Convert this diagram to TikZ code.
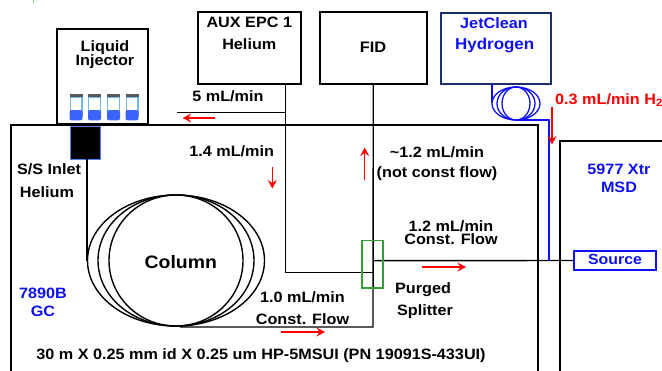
\documentclass[tikz,border=0pt]{standalone}
\usepackage{fontspec}
\setmainfont[FakeStretch=1.08]{Liberation Sans}
\usetikzlibrary{arrows.meta}
\definecolor{tblue}{RGB}{15,15,245}
\definecolor{navy}{RGB}{25,45,105}
\definecolor{vialb}{RGB}{60,100,250}
\definecolor{vialc}{RGB}{110,185,235}
\definecolor{splitgreen}{RGB}{50,160,50}
\tikzset{
  x=1pt,y=-1pt,
  lbl/.style={font=\fontsize{15}{16}\selectfont\bfseries,text=black,inner sep=0pt,align=center},
  bluelbl/.style={lbl,text=tblue},
  pipe/.style={draw=black,line width=1.4pt},
  bpipe/.style={draw=tblue,line width=1.3pt},
  heavy/.style={draw=black,line width=2pt},
  boxline/.style={draw=black,line width=1.4pt,inner sep=0pt},
  flow/.style={draw=red,line width=1.4pt,-{Stealth[length=8.5pt,width=9pt,inset=3pt]}},
}
\begin{document}
\begin{tikzpicture}
\useasboundingbox (0,0) rectangle (662,370);
\begin{scope}
\clip (0,0) rectangle (662,370);
\draw[draw=green!60!black!50,line width=1pt] (33,0) -- (33,3);
% boxes
\draw[heavy] (11,376) |- (538,124.5) -- (538,376);
\draw[heavy] (560,376) |- (670,140.5);
\node[boxline,minimum width=91pt,minimum height=95pt] (inj) at (102.5,76.5) {};
\node[boxline,minimum width=103pt,minimum height=72pt] (aux) at (249.5,48) {};
\node[boxline,minimum width=107pt,minimum height=72pt] (fid) at (373.3,48) {};
\node[boxline,draw=navy,minimum width=110pt,minimum height=71pt] (jet) at (496,48.5) {};
% vials
\foreach \vx in {76,94.5,113.5,132}{
  \draw[vialc,line width=1.4pt] (\vx-5.8,97) -- (\vx-5.8,116) (\vx+5.8,97) -- (\vx+5.8,116) (\vx-5.8,97.5) -- (\vx+5.8,97.5);
  \fill[vialb,rounded corners=2pt] (\vx-6.5,110) rectangle (\vx+6.5,120.3);
  \fill[gray!70!black] (\vx-6.5,94.3) rectangle (\vx+6.5,97);
}
\node[draw=vialc!70!blue,fill=black,line width=1pt,minimum width=30.5pt,minimum height=33pt,inner sep=0pt] (inlet) at (85.7,142.5) {};
% column
\coordinate (colL) at (87,260.5);
\coordinate (colB) at (180,327);
\draw[pipe] (87,159) -- (colL);
\foreach \rx in {67,78,88.5}{\draw[pipe] (176,260.5) ellipse [x radius=\rx,y radius=65.5];}
% splitter
\coordinate (fork) at (373,272.7);
\coordinate (fidout) at (fid.south);
\coordinate (auxout) at (285.7,84);
\coordinate (bleed) at (177,112.7);
\draw[pipe] (colB) -- (373,327) -- (fidout);
\draw[pipe] (auxout) -- (285.7,272.7) -- (fork);
\draw[pipe] (bleed) -- (285.7,112.7);
\node[draw=tblue,line width=1.8pt,minimum width=82pt,minimum height=19pt,inner sep=0pt] (srcbox) at (615,260.5) {};
\node[bluelbl,font=\fontsize{14.7}{15}\selectfont\bfseries] (src) at (615,259) {Source};
\draw[pipe] (373,260.7) -- (srcbox.west);
\node[draw=splitgreen,line width=1.5pt,minimum width=21pt,minimum height=47.5pt,inner sep=0pt] (split) at (372.5,264) {};
% hydrogen
\coordinate (hl) at (492,84);
\draw[bpipe] (hl) -- (492,103);
\foreach \rx in {14,19,24}{\draw[bpipe] (516,103.5) ellipse [x radius=\rx,y radius=16.5];}
\draw[bpipe] (516,120) -- (549,120) -- (549,260.7);
% arrows
\coordinate (a1) at (215,118); \coordinate (a2) at (182.7,118);
\draw[flow] (a1) -- (a2);
\coordinate (b1) at (272.3,166.7); \coordinate (b2) at (272.3,188.5);
\draw[flow] (b1) -- (b2);
\coordinate (c1) at (364.7,180); \coordinate (c2) at (364.7,147.5);
\draw[flow] (c1) -- (c2);
\coordinate (d1) at (422,267); \coordinate (d2) at (466,267);
\draw[flow] (d1) -- (d2);
\coordinate (e1) at (281,332); \coordinate (e2) at (325,332);
\draw[flow] (e1) -- (e2);
\coordinate (f1) at (552,107.3); \coordinate (f2) at (552,144.5);
\draw[flow] (f1) -- (f2);
% labels
\node[lbl] (t1) at (105,48) {Liquid};
\node[lbl] (t2) at (105,62) {Injector};
\node[lbl] (t3) at (249.3,22) {AUX EPC 1};
\node[lbl] (t4) at (249.3,44) {Helium};
\node[lbl,font=\fontsize{15.2}{16}\selectfont\bfseries] (t5) at (373,47.7) {FID};
\node[bluelbl] (t6) at (494,22.7) {JetClean};
\node[bluelbl,font=\fontsize{15.7}{17}\selectfont\bfseries] (t7) at (494.7,45.7) {Hydrogen};
\node[lbl] (t8) at (228,96) {5 mL/min};
\node[lbl] (t9) at (231.7,151) {1.4 mL/min};
\node[lbl] (t10) at (49,169.5) {S/S Inlet};
\node[lbl] (t11) at (47,192) {Helium};
\node[lbl] (t12) at (437,152) {\textasciitilde1.2 mL/min};
\node[lbl] (t13) at (437,173.7) {(not const flow)};
\node[lbl,text=red,anchor=west] (t14) at (555,100) {0.3 mL/min H\textsubscript{2}};
\node[bluelbl] (t15) at (619,169) {5977 Xtr};
\node[bluelbl] (t16) at (619,187) {MSD};
\node[lbl] (t17) at (451,226.7) {1.2 mL/min};
\node[lbl] (t18) at (451,239) {Const. Flow};
\node[lbl,font=\fontsize{18}{19}\selectfont\bfseries] (t19) at (180.8,261.7) {Column};
\node[bluelbl] (t20) at (43,293) {7890B};
\node[bluelbl] (t21) at (43,311) {GC};
\node[lbl] (t22) at (302.5,297) {1.0 mL/min};
\node[lbl] (t23) at (302.5,319) {Const. Flow};
\node[lbl] (t24) at (423,290) {Purged};
\node[lbl] (t25) at (425,311.7) {Splitter};
\node[lbl] (t26) at (261,356) {30 m X 0.25 mm id X 0.25 um HP-5MSUI (PN 19091S-433UI)};
\end{scope}
\end{tikzpicture}
\end{document}
